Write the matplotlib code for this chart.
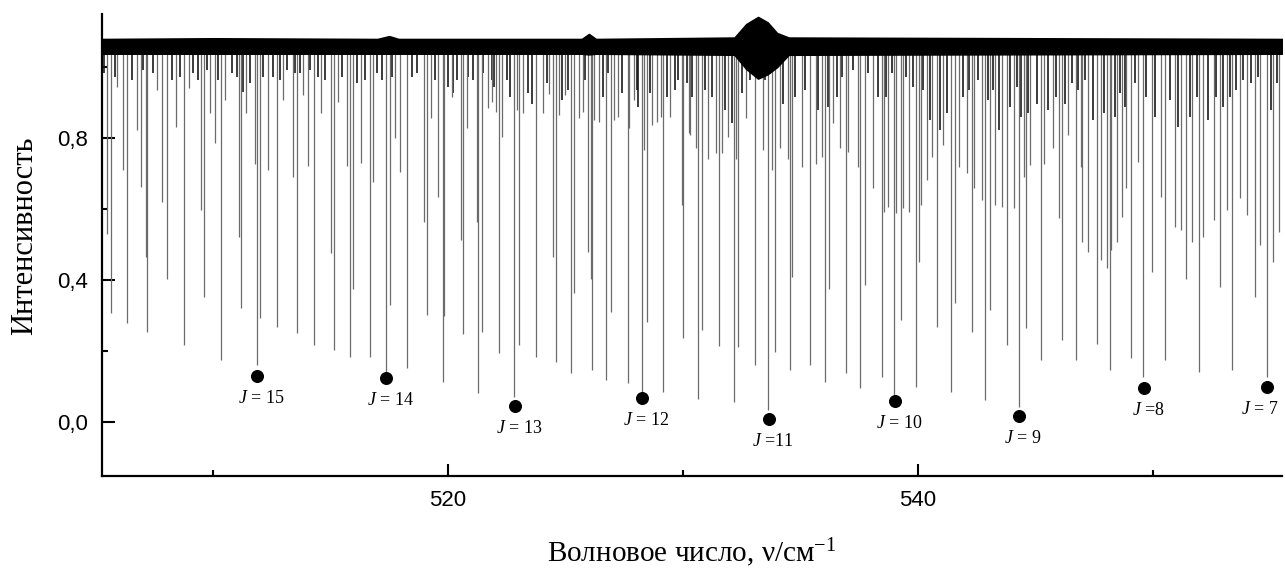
import numpy as np
import matplotlib
matplotlib.use("Agg")
import matplotlib.pyplot as plt

plt.rcParams["mathtext.fontset"] = "custom"
plt.rcParams["mathtext.rm"] = "Liberation Serif"
plt.rcParams["mathtext.it"] = "Liberation Serif:italic"

# strong absorption lines: position (cm-1) and minimum intensity
line_pos = [
    505.51, 505.65, 505.93, 506.16, 506.36, 506.76, 506.93, 507.15, 507.18, 507.61,
    507.83, 508.03, 508.43, 508.77, 509.00, 509.48, 509.63, 509.88, 510.10, 510.33,
    510.53, 511.12, 511.19, 511.41, 511.78, 511.89, 512.00, 512.36, 512.74, 512.97,
    513.39, 513.59, 513.85, 514.03, 514.30, 514.60, 515.03, 515.15, 515.34, 515.69,
    515.83, 515.96, 516.29, 516.68, 516.80, 517.35, 517.54, 517.75, 517.95, 518.24,
    518.97, 519.11, 519.28, 519.59, 519.81, 519.85, 520.16, 520.56, 520.66, 520.80,
    521.22, 521.29, 521.44, 521.69, 521.86, 522.05, 522.19, 522.30, 522.81, 522.92,
    523.02, 523.21, 523.75, 524.03, 524.29, 524.49, 524.58, 524.73, 524.98, 525.25,
    525.35, 525.58, 525.73, 525.96, 526.09, 526.13, 526.23, 526.44, 526.74, 526.92,
    527.08, 527.25, 527.65, 527.72, 527.92, 528.24, 528.34, 528.48, 528.70, 528.88,
    529.07, 529.17, 529.45, 529.95, 530.02, 530.27, 530.30, 530.54, 530.66, 530.80,
    531.08, 531.39, 531.54, 531.65, 531.93, 532.17, 532.25, 532.36, 532.67, 533.07,
    533.42, 533.64, 533.81, 533.92, 534.13, 534.46, 534.57, 534.66, 535.05, 535.42,
    535.65, 535.90, 536.05, 536.22, 536.39, 536.70, 536.96, 537.04, 537.44, 537.54,
    537.76, 538.10, 538.46, 538.54, 538.74, 538.98, 539.07, 539.27, 539.35, 539.63,
    539.92, 540.06, 540.15, 540.37, 540.61, 540.80, 541.08, 541.39, 541.58, 541.76,
    542.10, 542.29, 542.41, 542.72, 542.85, 543.09, 543.29, 543.58, 543.78, 544.09,
    544.30, 544.51, 544.60, 544.77, 545.25, 545.39, 545.76, 546.00, 546.12, 546.40,
    546.71, 546.94, 546.97, 547.25, 547.61, 547.79, 548.03, 548.17, 548.24, 548.49,
    548.67, 548.88, 549.07, 549.35, 549.59, 549.95, 550.34, 550.51, 550.94, 551.19,
    551.41, 551.68, 551.96, 552.15, 552.61, 552.87, 553.14, 553.39, 553.71, 553.99,
    554.34, 554.58, 554.84, 555.12, 555.36,
]
line_min = [
    0.530, 0.306, 0.944, 0.710, 0.278, 0.822, 0.663, 0.466, 0.254, 0.935,
    0.620, 0.404, 0.832, 0.217, 0.940, 0.597, 0.353, 0.870, 0.785, 0.174,
    0.907, 0.522, 0.320, 0.870, 0.728, 0.160, 0.292, 0.710, 0.268, 0.907,
    0.690, 0.250, 0.920, 0.720, 0.217, 0.870, 0.475, 0.204, 0.900, 0.720,
    0.184, 0.376, 0.730, 0.184, 0.677, 0.142, 0.330, 0.800, 0.705, 0.151,
    0.564, 0.301, 0.855, 0.635, 0.113, 0.300, 0.916, 0.512, 0.248, 0.827,
    0.564, 0.081, 0.254, 0.883, 0.900, 0.874, 0.193, 0.804, 0.071, 0.879,
    0.217, 0.870, 0.184, 0.870, 0.925, 0.466, 0.170, 0.865, 0.920, 0.137,
    0.362, 0.855, 0.874, 0.480, 0.404, 0.146, 0.850, 0.846, 0.118, 0.310,
    0.850, 0.860, 0.109, 0.827, 0.907, 0.081, 0.766, 0.282, 0.836, 0.846,
    0.860, 0.085, 0.860, 0.611, 0.236, 0.813, 0.808, 0.771, 0.066, 0.259,
    0.742, 0.757, 0.214, 0.757, 0.804, 0.057, 0.742, 0.212, 0.855, 0.160,
    0.766, 0.034, 0.710, 0.198, 0.771, 0.742, 0.146, 0.409, 0.719, 0.160,
    0.728, 0.747, 0.113, 0.376, 0.841, 0.771, 0.137, 0.761, 0.719, 0.095,
    0.386, 0.658, 0.128, 0.592, 0.606, 0.076, 0.588, 0.287, 0.602, 0.592,
    0.099, 0.451, 0.611, 0.681, 0.747, 0.268, 0.780, 0.085, 0.334, 0.719,
    0.700, 0.254, 0.658, 0.625, 0.062, 0.315, 0.611, 0.606, 0.217, 0.602,
    0.043, 0.691, 0.264, 0.724, 0.174, 0.728, 0.771, 0.574, 0.231, 0.808,
    0.174, 0.719, 0.508, 0.480, 0.221, 0.456, 0.433, 0.146, 0.484, 0.508,
    0.578, 0.658, 0.179, 0.733, 0.128, 0.423, 0.635, 0.174, 0.550, 0.541,
    0.404, 0.508, 0.142, 0.522, 0.569, 0.381, 0.597, 0.146, 0.630, 0.583,
    0.353, 0.498, 0.128, 0.451, 0.536,
]

# weak lines hanging from the noisy baseline
weak_pos = [
    505.37, 505.83, 506.54, 507.04, 507.47, 508.24, 508.60, 509.17, 509.38, 509.73,
    510.23, 510.80, 511.01, 511.29, 511.58, 512.15, 512.57, 512.86, 513.14, 513.49,
    513.71, 514.13, 514.46, 514.77, 515.48, 516.12, 516.47, 516.97, 517.18, 517.61,
    518.46, 518.67, 519.45, 520.02, 520.23, 520.37, 520.87, 521.08, 521.51, 521.86,
    521.96, 522.50, 522.64, 523.42, 523.56, 524.20, 524.84, 525.12, 525.83, 526.61,
    526.83, 527.39, 528.03, 528.10, 528.60, 529.31, 529.66, 529.80, 530.16, 530.37,
    530.94, 531.22, 531.79, 532.08, 532.50, 532.86, 533.28, 533.49, 534.27, 534.77,
    535.20, 535.76, 536.19, 536.54, 536.76, 537.25, 537.89, 538.32, 538.64, 538.88,
    539.49, 539.80, 540.23, 540.51, 540.94, 541.22, 541.93, 542.19, 542.57, 542.99,
    543.21, 543.46, 543.92, 544.20, 544.41, 544.70, 545.05, 545.55, 545.90, 546.26,
    546.54, 546.83, 547.11, 547.46, 547.93, 548.39, 548.60, 548.81, 549.24, 549.73,
    550.09, 550.73, 551.08, 551.58, 551.86, 552.36, 552.71, 552.99, 553.28, 553.56,
    553.85, 554.20, 554.49, 555.05, 555.27,
]
weak_min = [
    0.982, 0.972, 0.963, 0.991, 0.982, 0.963, 0.972, 0.982, 0.963, 0.991,
    0.963, 0.982, 0.972, 0.930, 0.954, 0.972, 0.972, 0.963, 0.991, 0.982,
    0.982, 0.991, 0.972, 0.963, 0.972, 0.954, 0.963, 0.982, 0.963, 0.972,
    0.972, 0.982, 0.963, 0.944, 0.926, 0.963, 0.972, 0.963, 0.982, 0.963,
    0.944, 0.963, 0.916, 0.926, 0.897, 0.954, 0.907, 0.935, 0.963, 0.916,
    0.982, 0.926, 0.935, 0.888, 0.926, 0.916, 0.935, 0.963, 0.954, 0.916,
    0.935, 0.916, 0.879, 0.841, 0.926, 0.963, 0.972, 0.963, 0.897, 0.916,
    0.935, 0.879, 0.888, 0.916, 0.972, 0.991, 0.982, 0.916, 0.916, 0.982,
    0.972, 0.944, 0.935, 0.850, 0.822, 0.869, 0.916, 0.935, 0.963, 0.907,
    0.935, 0.822, 0.888, 0.944, 0.860, 0.869, 0.897, 0.879, 0.916, 0.897,
    0.954, 0.935, 0.963, 0.850, 0.869, 0.860, 0.926, 0.888, 0.954, 0.916,
    0.860, 0.907, 0.832, 0.860, 0.916, 0.850, 0.916, 0.888, 0.916, 0.935,
    0.963, 0.954, 0.972, 0.879, 0.954,
]

# noisy baseline band (upper / lower edge)
band_x = [505.3, 510.0, 517.0, 517.5, 517.9, 525.7, 526.0, 526.3, 532.2, 532.7,
          533.2, 533.6, 534.0, 534.5, 555.5]
band_hi = [1.078, 1.080, 1.078, 1.086, 1.078, 1.078, 1.092, 1.078, 1.082, 1.120,
           1.140, 1.125, 1.095, 1.082, 1.078]
band_lo = [1.038, 1.038, 1.038, 1.038, 1.038, 1.038, 1.036, 1.038, 1.035, 0.995,
           0.968, 0.980, 1.000, 1.035, 1.038]

# assigned J lines
j_x = [511.88, 517.37, 522.85, 528.26, 533.66, 539.02, 544.30, 549.62, 554.85]
j_y = [0.130, 0.124, 0.045, 0.068, 0.008, 0.059, 0.017, 0.096, 0.099]
j_labels = ["$J$ = 15", "$J$ = 14", "$J$ = 13", "$J$ = 12", "$J$ =11",
            "$J$ = 10", "$J$ = 9", "$J$ =8", "$J$ = 7"]

fig = plt.figure(figsize=(12.85, 5.7), dpi=100)
ax = fig.add_axes([0.0794, 0.1649, 0.9183, 0.8105])

ax.vlines(weak_pos, weak_min, 1.045, color="0.1", lw=1.2, zorder=2)
ax.vlines(line_pos, line_min, 1.045, color="0.42", lw=0.9, zorder=2)
ax.fill_between(band_x, band_lo, band_hi, color="black", lw=1.5, zorder=3)

ax.scatter(j_x, j_y, s=70, color="black", zorder=4)
for i, (x, y, lab) in enumerate(zip(j_x, j_y, j_labels)):
    dx = -5 if i == len(j_x) - 1 else 3
    ax.annotate(lab, (x, y), xytext=(dx, -16), textcoords="offset points",
                ha="center", va="center", fontsize=13,
                family="Liberation Serif", annotation_clip=False)

ax.set_xlim(505.28, 555.5)
ax.set_ylim(-0.152, 1.149)

ax.set_xticks([520, 540])
ax.set_xticks([510, 530, 550], minor=True)
ax.set_yticks([0.0, 0.4, 0.8])
ax.set_yticks([0.2, 0.6, 1.0], minor=True)
ax.set_yticklabels(["0,0", "0,4", "0,8"])

for s in ["top", "right"]:
    ax.spines[s].set_visible(False)
for s in ["left", "bottom"]:
    ax.spines[s].set_linewidth(1.6)

ax.tick_params(which="major", direction="in", length=9, width=1.5, pad=10,
               labelsize=16)
ax.tick_params(which="minor", direction="in", length=4.5, width=1.5)
for t in ax.get_xticklabels() + ax.get_yticklabels():
    t.set_family("Liberation Sans")

ax.set_xlabel("Волновое число, ν/см$^{-1}$", family="Liberation Serif",
              fontsize=21, labelpad=18)
ax.set_ylabel("Интенсивность", family="Liberation Serif", fontsize=22,
              labelpad=14)
ax.yaxis.set_label_coords(-0.053, 0.52)

fig.savefig("out.png", dpi=100)
